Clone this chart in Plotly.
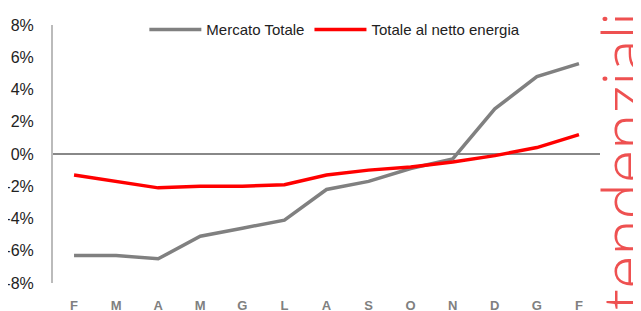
import plotly.graph_objects as go

months = ["F", "M", "A", "M", "G", "L", "A", "S", "O", "N", "D", "G", "F"]
mercato_totale = [-6.3, -6.3, -6.5, -5.1, -4.6, -4.1, -2.2, -1.7, -0.9, -0.3, 2.8, 4.8, 5.6]
netto_energia = [-1.3, -1.7, -2.1, -2.0, -2.0, -1.9, -1.3, -1.0, -0.8, -0.5, -0.1, 0.4, 1.2]
y_ticks = [-8, -6, -4, -2, 0, 2, 4, 6, 8]
y_tick_labels = [f"{v}%" for v in y_ticks]

x_idx = list(range(len(months)))

fig = go.Figure()
fig.add_trace(go.Scatter(x=x_idx, y=mercato_totale, mode="lines", name="Mercato Totale",
                         line=dict(color="#808080", width=3.5)))
fig.add_trace(go.Scatter(x=x_idx, y=netto_energia, mode="lines", name="Totale al netto energia",
                         line=dict(color="#ff0000", width=3.5)))

# page body has an 8px margin, so the figure is sized/offset to compensate
fig.update_layout(
    width=633, height=303,
    margin=dict(l=45, r=41, t=17, b=28, autoexpand=False),
    paper_bgcolor="white", plot_bgcolor="white",
    font=dict(family="Liberation Sans, Arial, sans-serif", color="#222222"),
    showlegend=True,
    legend=dict(orientation="h", x=0.167, y=0.982, xanchor="left", yanchor="middle",
                itemwidth=52,
                font=dict(size=15, color="#222222"), bgcolor="rgba(0,0,0,0)"),
    xaxis=dict(
        tickmode="array", tickvals=x_idx, ticktext=months,
        range=[-0.5, len(months) - 0.5], automargin=False,
        showgrid=False, zeroline=False, showline=False,
        ticks="outside", ticklen=10, tickcolor="rgba(0,0,0,0)",
        tickfont=dict(size=13, color="#808080", family="Liberation Sans, Arial, sans-serif", weight="bold"),
    ),
    yaxis=dict(
        range=[-8, 8], tickmode="array", tickvals=y_ticks, ticktext=y_tick_labels,
        automargin=False,
        showgrid=False, zeroline=True, zerolinecolor="#888888", zerolinewidth=2,
        showline=True, linecolor="#bbbbbb", linewidth=2,
        ticks="outside", ticklen=14, tickcolor="rgba(0,0,0,0)",
        tickfont=dict(size=16, color="#222222"),
    ),
)

fig.add_annotation(
    text="tendenziali", xref="paper", yref="paper",
    x=1.0 + 23 / 547, y=0.475, xanchor="center", yanchor="middle",
    textangle=-90, showarrow=False,
    font=dict(size=61, color="rgba(235,50,50,0.85)", family="Open Sans", weight=300),
)

fig.write_html("out.html")
